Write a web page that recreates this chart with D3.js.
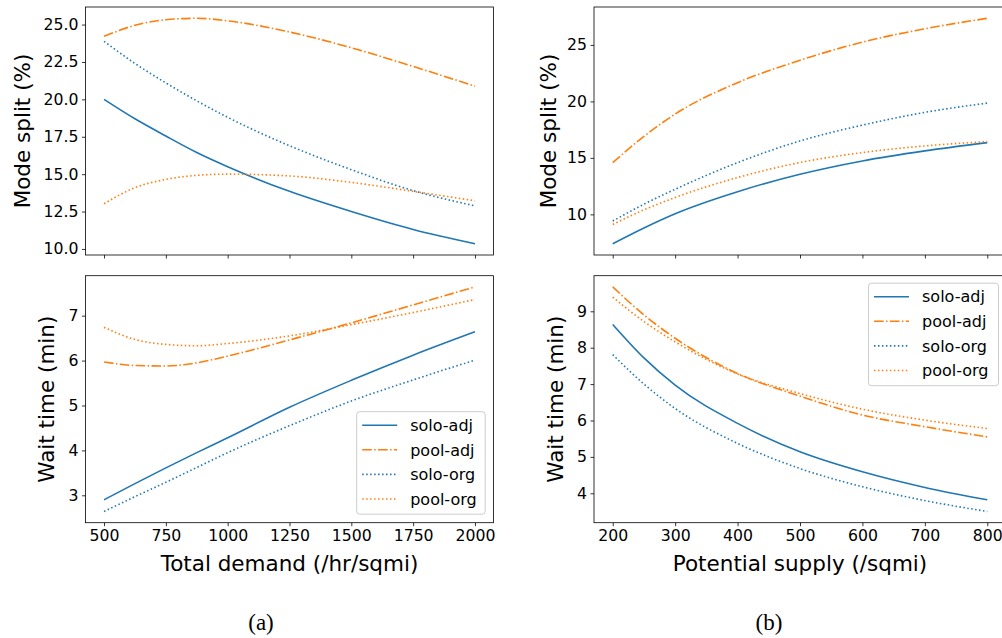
<!DOCTYPE html>
<html><head><meta charset="utf-8">
<script src="https://cdn.jsdelivr.net/npm/d3@7"></script>
<style>
html,body{margin:0;padding:0;background:#fff;}
svg{display:block;}
text{font-family:"DejaVu Sans",sans-serif;fill:#000;}
text.caption{font-family:"Liberation Serif","DejaVu Serif",serif;}
</style></head>
<body>
<script>
// ---------- data ----------
const seriesNames = ["solo-adj","pool-adj","solo-org","pool-org"];
const demandX = [500,625,750,875,1000,1250,1500,1750,2000];
const demandTicks = [500,750,1000,1250,1500,1750,2000];
const supplyX = [200,250,300,400,500,600,700,800];
const supplyTicks = [200,300,400,500,600,700,800];

// (a) top: mode split vs total demand
const modeDemandSoloAdj = [20.0,18.7,17.55,16.45,15.5,13.85,12.5,11.3,10.35];
const modeDemandPoolAdj = [24.21,24.95,25.32,25.42,25.25,24.5,23.45,22.2,20.88];
const modeDemandSoloOrg = [23.88,22.4,21.1,19.9,18.8,16.9,15.3,13.9,12.88];
const modeDemandPoolOrg = [13.02,14.1,14.65,14.92,15.0,14.88,14.45,13.85,13.22];
const modeDemandTicks = [10.0,12.5,15.0,17.5,20.0,22.5,25.0];

// (a) bottom: wait time vs total demand
const waitDemandSoloAdj = [2.90,3.26,3.61,3.95,4.28,4.96,5.56,6.12,6.64];
const waitDemandPoolAdj = [5.97,5.89,5.88,5.95,6.10,6.46,6.84,7.24,7.64];
const waitDemandSoloOrg = [2.64,2.97,3.29,3.62,3.95,4.55,5.10,5.57,6.01];
const waitDemandPoolOrg = [6.74,6.47,6.36,6.33,6.38,6.55,6.80,7.07,7.36];
const waitDemandTicks = [3,4,5,6,7];

// (b) top: mode split vs potential supply
const modeSupplySoloAdj = [7.4,8.8,10.06,12.01,13.55,14.73,15.62,16.35];
const modeSupplyPoolAdj = [14.58,16.9,18.88,21.66,23.64,25.25,26.43,27.36];
const modeSupplySoloOrg = [9.41,10.9,12.22,14.58,16.5,17.9,19.03,19.85];
const modeSupplyPoolOrg = [9.11,10.4,11.49,13.26,14.59,15.47,16.06,16.44];
const modeSupplyTicks = [10,15,20,25];

// (b) bottom: wait time vs potential supply
const waitSupplySoloAdj = [8.64,7.72,6.97,5.92,5.14,4.59,4.16,3.82];
const waitSupplyPoolAdj = [9.67,8.90,8.26,7.29,6.67,6.15,5.83,5.55];
const waitSupplySoloOrg = [7.81,7.00,6.33,5.37,4.68,4.18,3.80,3.50];
const waitSupplyPoolOrg = [9.39,8.72,8.16,7.28,6.74,6.31,6.01,5.78];
const waitSupplyTicks = [4,5,6,7,8,9];

// ---------- styles ----------
const styles = {
  "solo-adj": {color:"#1f77b4", dash:null},
  "pool-adj": {color:"#ff7f0e", dash:"9.6,2.4,1.5,2.4"},
  "solo-org": {color:"#1f77b4", dash:"1.5,2.475"},
  "pool-org": {color:"#ff7f0e", dash:"1.5,2.475"}
};

const W = 1002, H = 638;
const svg = d3.select("body").append("svg").attr("width",W).attr("height",H);

const colL = [85.5, 493.5], colR = [594, 1006];
const rowT = [7, 255], rowB = [275.7, 522.7];

function pad(ext){ const r = ext[1]-ext[0]; return [ext[0]-0.05*r, ext[1]+0.05*r]; }

function panel(opt){
  const {xs, ys, xr, yr, xTicks, yTicks, yFmt, showXLabels, xLabel, yLabel, yLabelX, legend} = opt;
  const x = d3.scaleLinear().domain(pad(d3.extent(xs))).range(xr);
  const allY = ys.flat();
  const y = d3.scaleLinear().domain(pad(d3.extent(allY))).range([yr[1], yr[0]]);
  const g = svg.append("g");

  const cid = "c" + Math.round(xr[0]) + "_" + Math.round(yr[0]);
  svg.append("clipPath").attr("id",cid).append("rect")
    .attr("x",xr[0]).attr("y",yr[0]).attr("width",xr[1]-xr[0]).attr("height",yr[1]-yr[0]);

  const line = d3.line().x((d,i)=>x(xs[i])).y(d=>y(d)).curve(d3.curveMonotoneX);
  const lg = g.append("g").attr("clip-path",`url(#${cid})`);
  seriesNames.forEach((n,k)=>{
    lg.append("path").datum(ys[k]).attr("d",line)
      .attr("fill","none").attr("stroke",styles[n].color).attr("stroke-width",1.6)
      .attr("stroke-dasharray",styles[n].dash).attr("stroke-linecap","butt");
  });

  const xa = d3.axisBottom(x).tickValues(xTicks).tickSize(3.5).tickPadding(3.5)
    .tickFormat(showXLabels ? d3.format("d") : "");
  const gx = g.append("g").attr("transform",`translate(0,${yr[1]})`).call(xa);
  const ya = d3.axisLeft(y).tickValues(yTicks).tickSize(3.5).tickPadding(3.5).tickFormat(d3.format(yFmt));
  const gy = g.append("g").attr("transform",`translate(${xr[0]},0)`).call(ya);
  [gx,gy].forEach(a=>{
    a.select(".domain").remove();
    a.selectAll(".tick line").attr("stroke","#000").attr("stroke-width",0.8);
    a.selectAll(".tick text").attr("font-size","15.7px").attr("fill","#000");
  });

  g.append("rect").attr("x",xr[0]).attr("y",yr[0]).attr("width",xr[1]-xr[0]).attr("height",yr[1]-yr[0])
    .attr("fill","none").attr("stroke","#000").attr("stroke-width",0.8);

  g.append("text").attr("transform",`translate(${yLabelX},${(yr[0]+yr[1])/2}) rotate(-90)`)
    .attr("text-anchor","middle").attr("font-size","21.5px").text(yLabel);
  if (xLabel) {
    g.append("text").attr("x",(xr[0]+xr[1])/2).attr("y",570.5)
      .attr("text-anchor","middle").attr("font-size","21.5px").text(xLabel);
  }

  if (legend) {
    const {bx, by, bw, bh} = legend;
    g.append("rect").attr("x",bx).attr("y",by).attr("width",bw).attr("height",bh)
      .attr("rx",3).attr("ry",3).attr("fill","#fff").attr("fill-opacity",0.8)
      .attr("stroke","#cccccc").attr("stroke-width",1);
    seriesNames.forEach((n,k)=>{
      const cy = by + 13.5 + k*24.6;
      g.append("line").attr("x1",bx+5.5).attr("x2",bx+40.5).attr("y1",cy).attr("y2",cy)
        .attr("stroke",styles[n].color).attr("stroke-width",1.6).attr("stroke-dasharray",styles[n].dash);
      g.append("text").attr("x",bx+53.5).attr("y",cy).attr("dy","0.36em")
        .attr("font-size","16px").text(n);
    });
  }
}

panel({xs:demandX, ys:[modeDemandSoloAdj,modeDemandPoolAdj,modeDemandSoloOrg,modeDemandPoolOrg],
  xr:colL, yr:rowT, xTicks:demandTicks, yTicks:modeDemandTicks, yFmt:".1f", showXLabels:false,
  yLabel:"Mode split (%)", yLabelX:29.5});
panel({xs:demandX, ys:[waitDemandSoloAdj,waitDemandPoolAdj,waitDemandSoloOrg,waitDemandPoolOrg],
  xr:colL, yr:rowB, xTicks:demandTicks, yTicks:waitDemandTicks, yFmt:"d", showXLabels:true,
  xLabel:"Total demand (/hr/sqmi)", yLabel:"Wait time (min)", yLabelX:54,
  legend:{bx:356.7, by:411.7, bw:128.5, bh:102.5}});
panel({xs:supplyX, ys:[modeSupplySoloAdj,modeSupplyPoolAdj,modeSupplySoloOrg,modeSupplyPoolOrg],
  xr:colR, yr:rowT, xTicks:supplyTicks, yTicks:modeSupplyTicks, yFmt:"d", showXLabels:false,
  yLabel:"Mode split (%)", yLabelX:556});
panel({xs:supplyX, ys:[waitSupplySoloAdj,waitSupplyPoolAdj,waitSupplySoloOrg,waitSupplyPoolOrg],
  xr:colR, yr:rowB, xTicks:supplyTicks, yTicks:waitSupplyTicks, yFmt:"d", showXLabels:true,
  xLabel:"Potential supply (/sqmi)", yLabel:"Wait time (min)", yLabelX:563,
  legend:{bx:868.5, by:283.2, bw:130, bh:102.5}});

svg.append("text").attr("class","caption").attr("x",261).attr("y",630).attr("text-anchor","middle")
  .attr("font-size","23px").text("(a)");
svg.append("text").attr("class","caption").attr("x",769).attr("y",630).attr("text-anchor","middle")
  .attr("font-size","23px").text("(b)");
</script>
</body></html>
